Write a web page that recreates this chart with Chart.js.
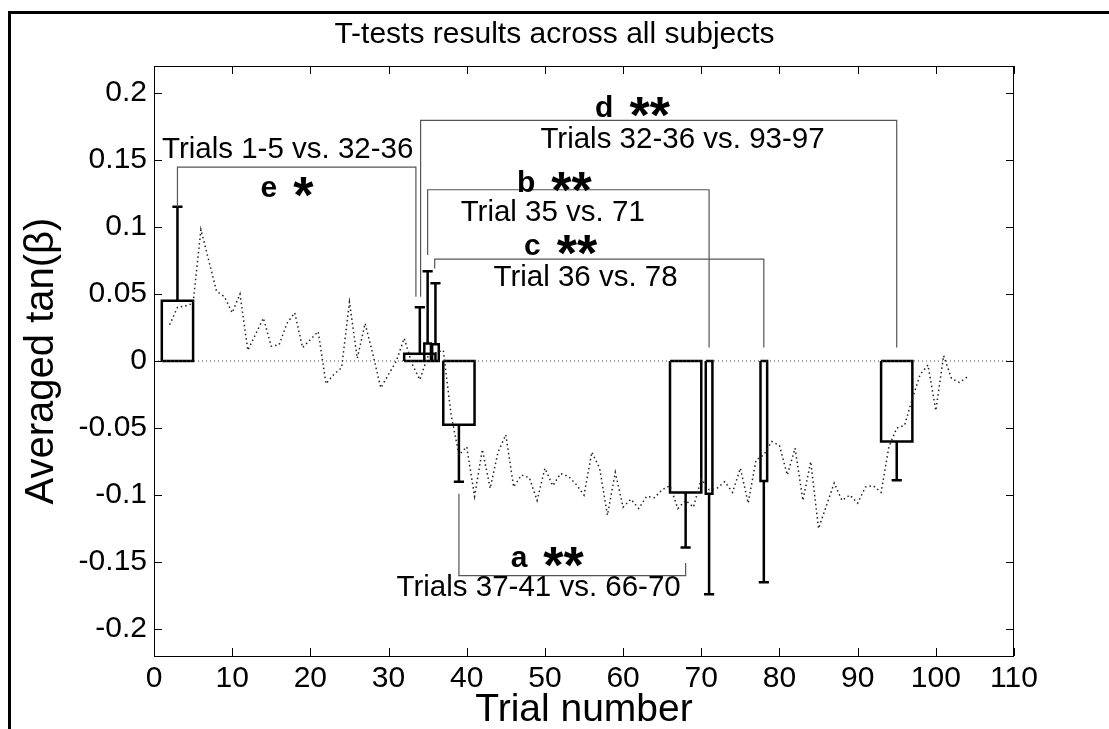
<!DOCTYPE html>
<html>
<head>
<meta charset="utf-8">
<script src="https://cdn.jsdelivr.net/npm/chart.js@4"></script>
<style>
  body{margin:0;background:#fff;}
  #wrap{position:relative;width:1109px;height:729px;overflow:hidden;}
  #frame{position:absolute;left:8px;top:11px;right:0;bottom:0;border-left:3px solid #000;border-top:3px solid #000;}
  canvas{position:absolute;left:0;top:0;}
</style>
</head>
<body>
<div id="wrap"><div id="frame"></div><canvas id="chart" width="1109" height="729"></canvas></div>
<script>
// averaged tan(beta) per trial, trials 2..104
const firstTrial = 2;
const meanTan = [
  0.027, 0.040, 0.041, 0.043, 0.098, 0.075, 0.052, 0.048, 0.036,      // 2-10
  0.050, 0.008, 0.020, 0.032, 0.011, 0.012, 0.028, 0.036, 0.010, 0.016, // 11-20
  0.022, -0.017, -0.010, -0.005, 0.044, 0.002, 0.028, 0.005, -0.020, -0.010, // 21-30
  0.000, 0.017, -0.002, -0.014, 0.003, 0.006, 0.008, -0.040, -0.070, -0.064, // 31-40
  -0.101, -0.066, -0.095, -0.068, -0.055, -0.094, -0.085, -0.087, -0.104, -0.080, // 41-50
  -0.093, -0.084, -0.086, -0.092, -0.100, -0.068, -0.080, -0.115, -0.083, -0.109, // 51-60
  -0.103, -0.110, -0.101, -0.102, -0.096, -0.093, -0.110, -0.104, -0.109, -0.088, // 61-70
  -0.096, -0.095, -0.090, -0.098, -0.080, -0.106, -0.074, -0.070, -0.060, -0.063, // 71-80
  -0.085, -0.065, -0.104, -0.075, -0.125, -0.108, -0.091, -0.104, -0.100, -0.106, // 81-90
  -0.094, -0.093, -0.098, -0.064, -0.050, -0.048, -0.028, -0.010, -0.003, -0.037, // 91-100
  0.004, -0.013, -0.016, -0.012 // 101-104
];

// bars compared in the t-tests
const barCenter = [3, 34, 35, 36, 39, 68, 71, 78, 95];
const barTrials = [5, 5, 1, 1, 5, 5, 1, 1, 5];
const barMean   = [0.045, 0.0055, 0.013, 0.0125, -0.0475, -0.098, -0.099, -0.0895, -0.060];
const barErrEnd = [0.115, 0.040, 0.067, 0.058, -0.090, -0.139, -0.174, -0.165, -0.089];

const xTicks = [0, 10, 20, 30, 40, 50, 60, 70, 80, 90, 100, 110];
const yTicks = [-0.2, -0.15, -0.1, -0.05, 0, 0.05, 0.1, 0.15, 0.2];

// significance brackets (trial, value)
const brackets = [
  {x: [3, 3, 33.5, 33.5],     y: [0.115, 0.1446, 0.1446, 0.048]},
  {x: [34.1, 34.1, 95, 95],   y: [0.048, 0.1795, 0.1795, 0.010]},
  {x: [35, 35, 71, 71],       y: [0.079, 0.1277, 0.1277, 0.010]},
  {x: [35.9, 35.9, 78, 78],   y: [0.069, 0.076, 0.076, 0.010]},
  {x: [39, 39, 68, 68],       y: [-0.099, -0.160, -0.160, -0.1506]}
];
const testNames = [
  {t: 'Trials 1-5 vs. 32-36',   x: 17.1, y: 0.1576},
  {t: 'Trials 32-36 vs. 93-97', x: 67.6, y: 0.165},
  {t: 'Trial 35 vs. 71',        x: 51.0, y: 0.1105},
  {t: 'Trial 36 vs. 78',        x: 55.2, y: 0.062},
  {t: 'Trials 37-41 vs. 66-70', x: 49.2, y: -0.1695}
];
const testMarks = [
  {letter: 'e', stars: '*',  x: 17.0, y: 0.128},
  {letter: 'd', stars: '**', x: 61.2, y: 0.188},
  {letter: 'b', stars: '**', x: 51.2, y: 0.132},
  {letter: 'c', stars: '**', x: 52.0, y: 0.085},
  {letter: 'a', stars: '**', x: 50.3, y: -0.148}
];

const FONT = "'Liberation Sans', Arial, sans-serif";

const curvePts = meanTan.map((v, i) => ({x: firstTrial + i, y: v}));

const barPts = [];
const errPts = [];
barCenter.forEach((c, i) => {
  const w = barTrials[i] > 1 ? barTrials[i] - 1 : 0.85;
  const l = c - w / 2, r = c + w / 2;
  barPts.push({x: l, y: 0}, {x: l, y: barMean[i]}, {x: r, y: barMean[i]}, {x: r, y: 0}, {x: l, y: 0}, {x: r, y: null});
  errPts.push({x: c, y: barMean[i]}, {x: c, y: barErrEnd[i]}, {x: c, y: null});
  errPts.push({x: c - 0.65, y: barErrEnd[i]}, {x: c + 0.65, y: barErrEnd[i]}, {x: c, y: null});
});

const brPts = [];
brackets.forEach(b => {
  b.x.forEach((xv, j) => brPts.push({x: xv, y: b.y[j]}));
  brPts.push({x: b.x[3], y: null});
});

const axisBox = {
  id: 'axisBox',
  afterDatasetsDraw(chart) {
    const {ctx, chartArea: a, scales: {x, y}} = chart;
    ctx.save();
    ctx.strokeStyle = '#000';
    ctx.lineWidth = 1;
    ctx.strokeRect(a.left + 0.5, a.top + 0.5, a.right - a.left - 1, a.bottom - a.top);
    ctx.beginPath();
    x.ticks.forEach(t => {
      const px = Math.round(x.getPixelForValue(t.value)) + 0.5;
      ctx.moveTo(px, a.bottom); ctx.lineTo(px, a.bottom - 8);
      ctx.moveTo(px, a.top); ctx.lineTo(px, a.top + 8);
    });
    y.ticks.forEach(t => {
      const py = Math.round(y.getPixelForValue(t.value)) + 0.5;
      ctx.moveTo(a.left, py); ctx.lineTo(a.left + 8, py);
      ctx.moveTo(a.right, py); ctx.lineTo(a.right - 8, py);
    });
    ctx.stroke();

    ctx.fillStyle = '#000';
    ctx.textBaseline = 'middle';
    ctx.textAlign = 'center';
    ctx.font = '29.5px ' + FONT;
    testNames.forEach(l => ctx.fillText(l.t, x.getPixelForValue(l.x), y.getPixelForValue(l.y)));

    // letter + significance stars, stars centred on the letter's x-height
    ctx.textAlign = 'left';
    ctx.textBaseline = 'alphabetic';
    testMarks.forEach(m => {
      const cx = x.getPixelForValue(m.x), cy = y.getPixelForValue(m.y);
      ctx.font = 'bold 30px ' + FONT;
      const wL = ctx.measureText(m.letter).width;
      ctx.font = 'bold 52px ' + FONT;
      const wS = ctx.measureText(m.stars).width;
      const gap = 16;
      const x0 = cx - (wL + gap + wS) / 2;
      ctx.font = 'bold 30px ' + FONT;
      ctx.fillText(m.letter, x0, cy + 8);
      ctx.font = 'bold 52px ' + FONT;
      ctx.fillText(m.stars, x0 + wL + gap, cy + 24);
    });
    ctx.restore();
  }
};

new Chart(document.getElementById('chart'), {
  type: 'line',
  data: {
    datasets: [
      {data: [{x: 0, y: 0}, {x: 110, y: 0}], borderColor: '#444', borderWidth: 1, borderDash: [1, 3], pointRadius: 0},
      {data: curvePts, borderColor: '#222', borderWidth: 1.5, borderDash: [1.5, 3], pointRadius: 0, tension: 0},
      {data: brPts, borderColor: '#555', borderWidth: 1.2, pointRadius: 0, spanGaps: false},
      {data: barPts, borderColor: '#000', borderWidth: 2.5, pointRadius: 0, spanGaps: false, borderJoinStyle: 'miter'},
      {data: errPts, borderColor: '#000', borderWidth: 2.5, pointRadius: 0, spanGaps: false}
    ]
  },
  options: {
    responsive: false,
    animation: false,
    layout: {padding: 0},
    plugins: {
      legend: {display: false},
      tooltip: {enabled: false},
      title: {
        display: true,
        text: 'T-tests results across all subjects',
        color: '#000',
        font: {family: FONT, size: 30, weight: 'normal'},
        padding: {top: 17, bottom: 13}
      }
    },
    scales: {
      x: {
        type: 'linear', min: 0, max: 110,
        afterBuildTicks: s => { s.ticks = xTicks.map(v => ({value: v})); },
        afterFit: s => { s.height = 73; },
        grid: {display: false, drawTicks: false},
        border: {display: false},
        ticks: {color: '#000', font: {family: FONT, size: 30}, padding: 5, maxRotation: 0},
        title: {display: true, text: 'Trial number', color: '#000', font: {family: FONT, size: 39, lineHeight: 0.95}, padding: {top: 0, bottom: 0}}
      },
      y: {
        type: 'linear', min: -0.22, max: 0.22,
        afterBuildTicks: s => { s.ticks = yTicks.map(v => ({value: v})); },
        afterFit: s => { s.width = 154; },
        grid: {display: false, drawTicks: false},
        border: {display: false},
        ticks: {color: '#000', font: {family: FONT, size: 30}, padding: 7, callback: v => String(v)},
        title: {display: true, text: 'Averaged tan(β)', color: '#000', font: {family: FONT, size: 40}, padding: {top: 18, bottom: 0}}
      },
      y2: {
        type: 'linear', position: 'right', min: -0.22, max: 0.22,
        afterFit: s => { s.width = 95; },
        grid: {display: false, drawTicks: false},
        border: {display: false},
        ticks: {display: false}
      }
    }
  },
  plugins: [axisBox]
});
</script>
</body>
</html>
